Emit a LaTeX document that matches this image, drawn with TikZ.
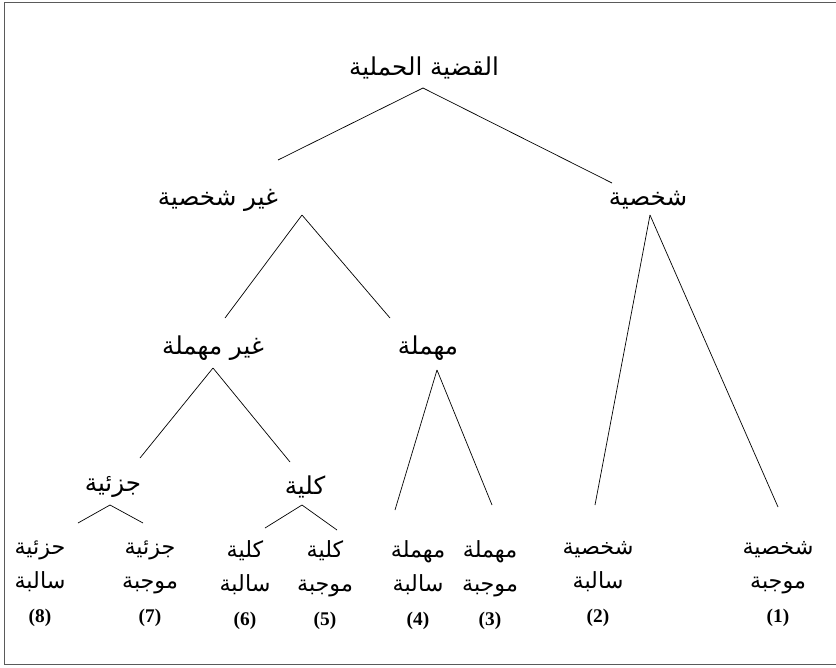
\documentclass[tikz,border=0pt]{standalone}
\usepackage{fontspec}
\setmainfont{Liberation Serif}
\newfontfamily\arabicfont[Script=Arabic]{DejaVu Sans}
\TeXXeTstate=1
\usetikzlibrary{
	positioning
}
\definecolor{FrameGray}{RGB}{90,90,90}

\begin{document}
\begin{tikzpicture}[
				x=0.03cm,
				y=-0.03cm,
				every node/.style={
					inner sep=0pt,
					outer sep=0pt
				},
				term/.style={
					font=\arabicfont\fontsize{21}{27}\selectfont,
					minimum height=0.84cm
				},
				leaf/.style={
					font=\arabicfont\fontsize{19}{29}\selectfont,
					align=center,
					anchor=north
				},
				branch/.style={
					black,
					line width=0.6pt
				}
				]
				
				\useasboundingbox (0,0) rectangle (836,667);
				\draw[FrameGray, line width=0.8pt] (836,2) -- (4,2) -- (4,664) -- (836,664);
				
				\node[term] (root) at (424,68) {\beginR القضية الحملية\endR};
				\node[term] (gs) at (218,200) {\beginR غير شخصية\endR};
				\node[term] (sh) at (648,200) {\beginR شخصية\endR};
				\node[term] (gm) at (213,348) {\beginR غير مهملة\endR};
				\node[term] (mh) at (428,348) {\beginR مهملة\endR};
				\node[term] (jz) at (113,487) {\beginR جزئية\endR};
				\node[term] (kl) at (305,487) {\beginR كلية\endR};
				
				\node[leaf] (l8) at (40,541) {\beginR حزئية\endR\\\beginR سالبة\endR\\{\normalfont\bfseries\fontsize{16.5}{29}\selectfont (8)}};
				\node[leaf] (l7) at (150,541) {\beginR جزئية\endR\\\beginR موجبة\endR\\{\normalfont\bfseries\fontsize{16.5}{29}\selectfont (7)}};
				\node[leaf] (l6) at (245,541) {\beginR كلية\endR\\\beginR سالبة\endR\\{\normalfont\bfseries\fontsize{16.5}{29}\selectfont (6)}};
				\node[leaf] (l5) at (325,541) {\beginR كلية\endR\\\beginR موجبة\endR\\{\normalfont\bfseries\fontsize{16.5}{29}\selectfont (5)}};
				\node[leaf] (l4) at (418,541) {\beginR مهملة\endR\\\beginR سالبة\endR\\{\normalfont\bfseries\fontsize{16.5}{29}\selectfont (4)}};
				\node[leaf] (l3) at (490,541) {\beginR مهملة\endR\\\beginR موجبة\endR\\{\normalfont\bfseries\fontsize{16.5}{29}\selectfont (3)}};
				\node[leaf] (l2) at (598,541) {\beginR شخصية\endR\\\beginR سالبة\endR\\{\normalfont\bfseries\fontsize{16.5}{29}\selectfont (2)}};
				\node[leaf] (l1) at (778,541) {\beginR شخصية\endR\\\beginR موجبة\endR\\{\normalfont\bfseries\fontsize{16.5}{29}\selectfont (1)}};
				
				\draw[branch] ([shift={(-1,6)}]root.south) -- ([shift={(60,-26)}]gs.north);
				\draw[branch] ([shift={(-1,6)}]root.south) -- ([shift={(-36,-3)}]sh.north);
				
				\draw[branch] ([shift={(84,1)}]gs.south) -- ([shift={(12,-16)}]gm.north);
				\draw[branch] ([shift={(84,1)}]gs.south) -- ([shift={(-38,-16)}]mh.north);
				
				\draw[branch] ([shift={(2,1)}]sh.south) -- ([shift={(-3,-36)}]l2.north);
				\draw[branch] ([shift={(2,1)}]sh.south) -- ([shift={(0,-34)}]l1.north);
				
				\draw[branch] ([shift={(0,6)}]gm.south) -- ([shift={(27,-15)}]jz.north);
				\draw[branch] ([shift={(0,6)}]gm.south) -- ([shift={(-15,-11)}]kl.north);
				
				\draw[branch] ([shift={(9,8)}]mh.south) -- ([shift={(-23,-31)}]l4.north);
				\draw[branch] ([shift={(9,8)}]mh.south) -- ([shift={(2,-36)}]l3.north);
				
				\draw[branch] ([shift={(-3,4)}]jz.south) -- ([shift={(38,-18)}]l8.north);
				\draw[branch] ([shift={(-3,4)}]jz.south) -- ([shift={(-7,-18)}]l7.north);
				
				\draw[branch] ([shift={(-3,4)}]kl.south) -- ([shift={(20,-13)}]l6.north);
				\draw[branch] ([shift={(-3,4)}]kl.south) -- ([shift={(12,-11)}]l5.north);
				
			\end{tikzpicture}
\end{document}
